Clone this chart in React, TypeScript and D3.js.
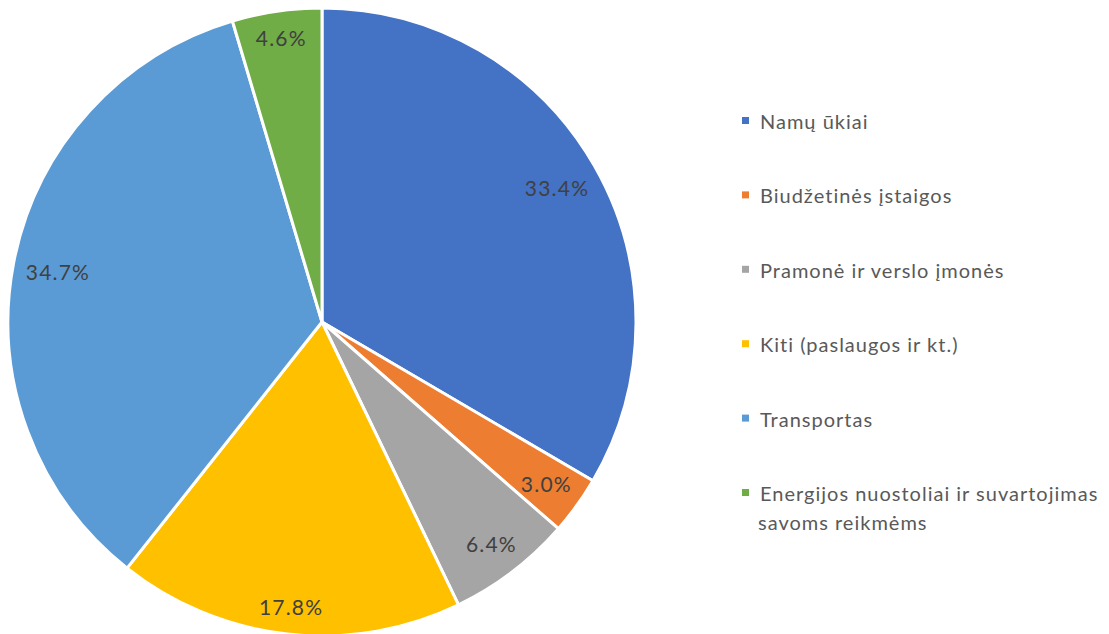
import React from "react";
import * as d3 from "d3";

const categories = [
  "Namų ūkiai",
  "Biudžetinės įstaigos",
  "Pramonė ir verslo įmonės",
  "Kiti (paslaugos ir kt.)",
  "Transportas",
  "Energijos nuostoliai ir suvartojimas savoms reikmėms",
];
const legendLines = [
  ["Namų ūkiai"],
  ["Biudžetinės įstaigos"],
  ["Pramonė ir verslo įmonės"],
  ["Kiti (paslaugos ir kt.)"],
  ["Transportas"],
  ["Energijos nuostoliai ir suvartojimas", "savoms reikmėms"],
];
const shares = [33.4, 3.0, 6.4, 17.8, 34.7, 4.6];
const colors = ["#4472C4", "#ED7D31", "#A5A5A5", "#FFC000", "#5B9BD5", "#70AD47"];

const W = 1109;
const H = 634;
const cx = 322;
const cy = 322;
const R = 314;
const FONT = "Lato, 'Open Sans', sans-serif";
const labelSize = 21;

function App() {
  const pie = d3
    .pie<number>()
    .sort(null)
    .value((d) => d);
  const arcs = pie(shares);
  const arc = d3.arc<d3.PieArcDatum<number>>().innerRadius(0).outerRadius(R);

  // inside-end label: push the text box out until its far corner touches the edge
  const labelPos = (a: d3.PieArcDatum<number>, text: string) => {
    const mid = (a.startAngle + a.endAngle) / 2;
    const s = Math.abs(Math.sin(mid));
    const c = Math.abs(Math.cos(mid));
    const w = text.length * 11.4;
    const h = 16;
    const L = R - 15;
    const b = s * w + c * h;
    const k = (w * w) / 4 + (h * h) / 4 - L * L;
    const rr = (-b + Math.sqrt(b * b - 4 * k)) / 2;
    return [rr * Math.sin(mid), -rr * Math.cos(mid)];
  };

  const legendY = d3
    .scalePoint<number>()
    .domain(d3.range(categories.length))
    .range([121, 493]);

  return (
    <svg
      width={W}
      height={H}
      style={{ position: "absolute", left: 0, top: 0, background: "#fff" }}
    >
      <g transform={`translate(${cx},${cy})`}>
        {arcs.map((a, i) => (
          <path
            key={categories[i]}
            d={arc(a) || ""}
            fill={colors[i]}
            stroke="#fff"
            strokeWidth={3}
            strokeLinejoin="round"
          />
        ))}
        {arcs.map((a, i) => {
          const t = shares[i].toFixed(1) + "%";
          const [x, y] = labelPos(a, t);
          return (
            <text
              key={"l" + i}
              x={x + 0.6}
              y={y}
              textAnchor="middle"
              dominantBaseline="central"
              fontFamily={FONT}
              fontSize={labelSize}
              letterSpacing={1.2}
              fill="#404040"
            >
              {t}
            </text>
          );
        })}
      </g>
      <g>
        {legendLines.map((lines, i) => {
          const y = legendY(i) || 0;
          return (
            <g key={"lg" + i}>
              <rect x={742} y={y - 4} width={7} height={7} fill={colors[i]} />
              {lines.map((ln, j) => (
                <text
                  key={j}
                  x={j === 0 ? 760 : 758}
                  y={y + j * 29}
                  dominantBaseline="central"
                  fontFamily={FONT}
                  fontSize={20}
                  letterSpacing={1}
                  fill="#595959"
                >
                  {ln}
                </text>
              ))}
            </g>
          );
        })}
      </g>
    </svg>
  );
}

export default App;
